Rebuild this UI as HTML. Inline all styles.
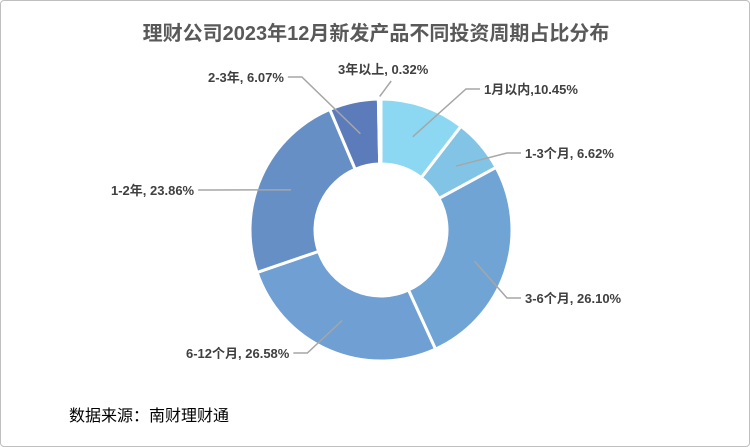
<!DOCTYPE html>
<html><head><meta charset="utf-8"><style>
body{margin:0;background:#fff;}
#c{position:relative;width:748px;height:445px;border:1px solid #bfbfbf;border-radius:4px;overflow:hidden;font-family:"Liberation Sans","Noto Sans CJK SC",sans-serif;}
</style></head><body>
<div id="c">
<svg id="s" width="748" height="445">
<text x="375" y="39" text-anchor="middle" font-size="20" font-weight="bold" fill="#595959" font-family="Liberation Sans, Noto Sans CJK SC, sans-serif">理财公司2023年12月新发产品不同投资周期占比分布</text>
<text x="68" y="420" font-size="16" fill="#000" font-family="Liberation Sans, Noto Sans CJK SC, sans-serif">数据来源：南财理财通</text>
<g id="sl"></g><g id="lb"></g>
</svg></div>
<script>
const categories=["1月以内","1-3个月","3-6个月","6-12个月","1-2年","2-3年","3年以上"];
const values=[10.45,6.62,26.10,26.58,23.86,6.07,0.32];
const valueLabels=["10.45%","6.62%","26.10%","26.58%","23.86%","6.07%","0.32%"];
const colors=["#8cd8f2","#82c4e6","#70a4d5","#6f9fd3","#668fc6","#5b7bbb","#5b7bbb"];
const labelPos=[[483,88,"start",","],[524,152,"start",", "],[524,297,"start",", "],[185,352,"start",", "],[110,189,"start",", "],[207,76,"start",", "],[337,68,"start",", "]];
const cx=380,cy=229,R=131,r=66;
const ns="http://www.w3.org/2000/svg";
const sl=document.getElementById('sl'),lb=document.getElementById('lb');
const tot=values.reduce((a,b)=>a+b,0);
function pt(a,rad){return [cx+rad*Math.sin(a),cy-rad*Math.cos(a)];}
let a0=0;
values.forEach((v,i)=>{
 const a1=a0+v/tot*2*Math.PI;
 const [x1,y1]=pt(a0,R),[x2,y2]=pt(a1,R),[x3,y3]=pt(a1,r),[x4,y4]=pt(a0,r);
 const lg=(a1-a0)>Math.PI?1:0;
 const p=document.createElementNS(ns,'path');
 p.setAttribute('d',`M${x1},${y1}A${R},${R} 0 ${lg} 1 ${x2},${y2}L${x3},${y3}A${r},${r} 0 ${lg} 0 ${x4},${y4}Z`);
 p.setAttribute('fill',colors[i]);p.setAttribute('stroke','#fff');p.setAttribute('stroke-width','3');
 
 
 sl.appendChild(p);
 const am=(a0+a1)/2;const [mx,my]=pt(am,(R+r)/2+(i==6?35:0));
 const lp=labelPos[i];
 const t=document.createElementNS(ns,'text');
 t.textContent=categories[i]+lp[3]+valueLabels[i];
 t.setAttribute('x',lp[0]);t.setAttribute('y',lp[1]+5);t.setAttribute('font-size','13');t.setAttribute('font-weight','bold');t.setAttribute('fill','#404040');
 
 
 lb.appendChild(t);
 const w=t.getComputedTextLength();
 let ex,ey=lp[1];
 if(lp[0]>cx) ex=lp[0]-4; else ex=lp[0]+w+4;
 if(i==6){ex=lp[0]+w/2+8;ey=lp[1]+12;}
 const l=document.createElementNS(ns,'polyline');
 const ex2=i==6?ex:(lp[0]>cx?ex-14:ex+14);
 l.setAttribute('points',`${mx},${my} ${ex2},${ey} ${ex},${ey}`);
 l.setAttribute('fill','none');l.setAttribute('stroke','#a6a6a6');l.setAttribute('stroke-width','1.5');
 
 
 lb.appendChild(l);
 a0=a1;
});
</script>
</body></html>
